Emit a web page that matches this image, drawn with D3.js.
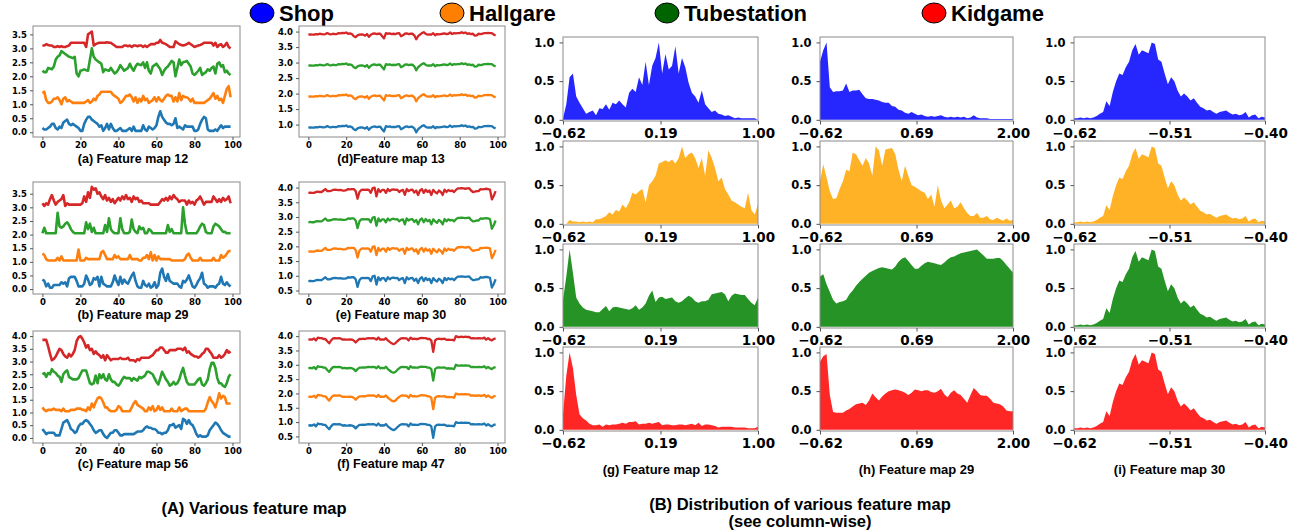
<!DOCTYPE html>
<html>
<head>
<meta charset="utf-8">
<script src="https://cdn.jsdelivr.net/npm/d3@7"></script>
<style>
  body { margin: 0; background: #fff; }
  .tick text { font-family: "DejaVu Sans", sans-serif; font-weight: bold; fill: #000; }
  .ttl { font-family: "Liberation Sans", Arial, sans-serif; font-weight: bold; fill: #000; }
</style>
</head>
<body>
<div id="chart"></div>
<script>
const W = 1298, H = 531;

// ---- legend ----
const classNames = ["Shop", "Hallgare", "Tubestation", "Kidgame"];
const legendColors = ["#0000ff", "#ff8000", "#006400", "#ff0000"];
const lineColors = ["#1f77b4", "#ff7f0e", "#2ca02c", "#d62728"];
const areaColors = ["blue", "orange", "green", "red"];

// ---- (A) feature maps over 100 steps, order: blue, orange, green, red ----
const fm12Blue = [0.15,0.1,0.1,0.15,0.2,0.3,0.3,0.15,0.1,0.2,0.15,0.35,0.4,0.45,0.3,0.25,0.3,0.25,0.2,0.15,0.05,0.05,0.3,0.45,0.55,0.55,0.45,0.4,0.35,0.3,0.2,0.25,0.05,0.15,0.3,0.1,0.3,0.15,0.05,0.05,0.1,0.15,0.05,0.05,0.05,0.1,0.15,0.05,0.2,0.05,0.05,0.05,0.05,0.25,0.1,0.05,0.2,0.15,0.1,0.15,0.25,0.55,0.75,0.55,0.45,0.35,0.3,0.3,0.25,0.3,0.5,0.15,0.2,0.15,0.1,0.25,0.2,0.2,0.2,0.2,0.05,0.05,0.1,0.3,0.45,0.55,0.5,0.1,0.05,0.05,0.05,0.1,0.05,0.15,0.25,0.15,0.2,0.2,0.2,0.2];
const fm12Orange = [1.4,1.45,1.15,1.05,1.05,1.1,1.2,1.2,1.25,1.15,1.0,1.2,1.25,1.1,1.15,1.1,1.05,1.05,1.05,1.05,1.05,1.05,1.05,1.1,1.15,1.05,1.1,1.2,1.15,1.3,1.35,1.45,1.45,1.45,1.45,1.45,1.45,1.35,1.3,1.25,1.2,1.05,1.1,1.2,1.3,1.3,1.35,1.25,1.1,1.25,1.05,1.2,1.1,1.3,1.15,1.2,1.05,1.1,1.15,1.25,1.1,1.25,1.15,1.1,1.2,1.3,1.35,1.3,1.3,1.1,1.25,1.1,1.4,1.15,1.3,1.25,1.25,1.2,1.1,1.2,1.05,1.05,1.05,1.05,1.05,1.05,1.1,1.15,1.2,1.3,1.4,1.2,1.3,1.15,1.2,1.05,1.3,1.55,1.65,1.25];
const fm12Green = [2.2,2.15,2.15,2.3,2.28,2.25,2.35,2.6,2.7,2.75,2.9,2.85,2.8,2.75,2.7,2.68,2.65,2.7,2.1,2.0,2.2,2.22,2.25,2.22,2.2,2.6,3.0,2.7,2.6,2.55,2.5,2.45,2.15,2.25,2.22,2.2,2.3,2.2,2.1,2.15,2.25,2.4,2.3,2.2,2.25,2.3,2.45,2.3,2.2,2.35,2.45,2.42,2.4,2.5,2.3,2.5,2.2,2.1,2.35,2.4,2.45,2.35,2.25,2.05,2.2,2.3,2.35,2.45,2.55,2.5,2.0,2.3,2.6,2.4,2.5,2.52,2.55,2.45,2.35,2.1,2.05,2.12,2.2,2.3,2.05,2.1,2.15,2.25,2.2,2.3,2.35,2.1,2.45,2.5,2.35,2.4,2.15,2.2,2.1,2.05];
const fm12Red = [3.1,3.1,3.15,3.12,3.1,3.1,3.05,3.05,3.08,3.05,3.08,3.05,3.05,3.08,3.1,3.2,3.2,3.2,3.2,3.2,3.2,3.2,3.2,3.05,3.5,3.55,3.6,3.1,3.15,3.18,3.2,3.2,3.2,3.2,3.22,3.2,3.2,3.15,3.1,3.05,3.05,3.05,3.05,3.1,3.1,3.08,3.1,3.05,3.1,3.1,3.08,3.1,3.1,3.05,3.1,3.05,3.1,3.15,3.15,3.15,3.2,3.2,3.3,3.2,3.18,3.15,3.1,3.05,3.05,3.05,3.25,3.2,3.15,3.12,3.1,3.12,3.15,3.2,3.15,3.1,3.05,3.08,3.1,3.12,3.15,3.2,3.2,3.2,3.2,3.2,3.1,3.2,3.05,3.12,3.15,3.05,3.1,3.2,3.05,3.0];

const fm29Blue = [0.35,0.3,0.1,0.2,0.05,0.05,0.15,0.15,0.15,0.15,0.25,0.2,0.25,0.1,0.4,0.45,0.45,0.45,0.3,0.1,0.1,0.1,0.2,0.5,0.35,0.15,0.2,0.4,0.35,0.45,0.1,0.45,0.2,0.15,0.1,0.1,0.1,0.25,0.5,0.3,0.15,0.45,0.2,0.35,0.25,0.2,0.35,0.5,0.6,0.3,0.1,0.05,0.05,0.3,0.15,0.1,0.2,0.05,0.1,0.25,0.05,0.15,0.6,0.75,0.45,0.3,0.55,0.3,0.25,0.2,0.2,0.2,0.1,0.05,0.3,0.25,0.35,0.5,0.3,0.1,0.05,0.15,0.3,0.4,0.6,0.2,0.15,0.05,0.1,0.1,0.1,0.05,0.15,0.2,0.45,0.2,0.15,0.25,0.15,0.1];
const fm29Orange = [1.3,1.25,1.1,1.05,1.05,1.05,1.05,1.05,1.15,1.05,1.2,1.05,1.05,1.05,1.05,1.05,1.05,1.05,1.05,1.45,1.05,1.05,1.05,1.15,1.1,1.1,1.1,1.1,1.1,1.1,1.1,1.35,1.4,1.25,1.1,1.1,1.1,1.1,1.25,1.15,1.2,1.1,1.1,1.1,1.1,1.1,1.25,1.1,1.1,1.1,1.1,1.05,1.05,1.15,1.15,1.25,1.1,1.35,1.05,1.25,1.05,1.2,1.1,1.1,1.1,1.1,1.1,1.1,1.05,1.05,1.05,1.05,1.05,1.05,1.05,1.1,1.25,1.3,1.15,1.05,1.05,1.05,1.05,1.15,1.05,1.05,1.05,1.05,1.05,1.05,1.15,1.05,1.05,1.05,1.25,1.15,1.2,1.3,1.4,1.4];
const fm29Green = [2.05,2.25,2.05,2.05,2.05,2.05,2.05,2.05,2.8,2.3,2.25,2.3,2.4,2.45,2.35,2.2,2.1,2.05,2.05,2.05,2.05,2.05,2.05,2.45,2.2,2.4,2.1,2.25,2.05,2.05,2.05,2.05,2.05,2.35,2.1,2.6,2.2,2.1,2.05,2.05,2.05,2.6,2.2,2.05,2.05,2.05,2.1,2.55,2.2,2.1,2.05,2.3,2.2,2.25,2.05,2.05,2.2,2.15,2.05,2.05,2.05,2.05,2.05,2.05,2.05,2.05,2.35,2.1,2.2,2.05,2.05,2.05,2.05,2.05,3.0,2.4,2.05,2.05,2.05,2.05,2.05,2.05,2.15,2.3,2.4,2.35,2.1,2.05,2.05,2.05,2.3,2.4,2.35,2.3,2.2,2.1,2.1,2.05,2.05,2.05];
const fm29Red = [3.15,3.05,3.15,3.1,3.3,3.45,3.25,3.1,3.2,3.25,3.3,3.45,3.05,3.15,3.1,3.1,3.1,3.1,3.1,3.1,3.1,3.15,3.4,3.2,3.55,3.35,3.75,3.65,3.7,3.5,3.55,3.4,3.3,3.45,3.25,3.35,3.2,3.3,3.15,3.25,3.35,3.25,3.4,3.3,3.45,3.3,3.35,3.2,3.4,3.3,3.35,3.2,3.25,3.15,3.15,3.15,3.15,3.1,3.1,3.1,3.1,3.1,3.2,3.3,3.25,3.35,3.25,3.4,3.3,3.45,3.35,3.3,3.2,3.25,3.25,3.25,3.1,3.25,3.15,3.2,3.1,3.25,3.3,3.4,3.25,3.1,3.2,3.2,3.2,3.2,3.4,3.3,3.2,3.3,3.2,3.35,3.25,3.3,3.4,3.15];

const fm56Blue = [0.35,0.25,0.15,0.2,0.2,0.2,0.2,0.1,0.1,0.1,0.35,0.6,0.65,0.7,0.55,0.35,0.3,0.2,0.25,0.45,0.55,0.55,0.65,0.7,0.65,0.55,0.45,0.3,0.2,0.25,0.3,0.3,0.15,0.05,0.0,0.1,0.2,0.2,0.3,0.3,0.2,0.1,0.1,0.15,0.15,0.15,0.15,0.15,0.15,0.2,0.25,0.25,0.25,0.3,0.4,0.45,0.4,0.4,0.35,0.35,0.3,0.2,0.2,0.15,0.2,0.2,0.3,0.5,0.5,0.55,0.4,0.45,0.5,0.35,0.75,0.7,0.55,0.7,0.55,0.5,0.35,0.15,0.05,0.1,0.05,0.05,0.05,0.1,0.3,0.4,0.5,0.6,0.55,0.45,0.3,0.2,0.15,0.1,0.05,0.05];
const fm56Orange = [1.2,1.1,1.05,1.1,1.1,1.1,1.15,1.1,1.1,1.1,1.05,1.15,1.05,1.05,1.05,1.1,1.1,1.1,1.15,1.15,1.15,1.1,1.1,1.05,1.2,1.1,1.35,1.2,1.4,1.55,1.6,1.55,1.4,1.2,1.2,1.1,1.05,1.05,1.05,1.1,1.25,1.2,1.05,1.05,1.05,1.05,1.05,1.2,1.35,1.45,1.3,1.25,1.2,1.15,1.05,1.05,1.2,1.1,1.25,1.05,1.1,1.25,1.1,1.2,1.05,1.05,1.05,1.05,1.15,1.05,1.05,1.05,1.2,1.05,1.1,1.15,1.15,1.05,1.05,1.05,1.05,1.05,1.05,1.05,1.05,1.05,1.15,1.4,1.6,1.45,1.35,1.2,1.45,1.75,1.55,1.65,1.6,1.35,1.35,1.35];
const fm56Green = [2.5,2.55,2.4,2.55,2.5,2.7,2.6,2.55,2.45,2.4,2.2,2.5,2.6,2.65,2.4,2.35,2.3,2.3,2.3,2.35,2.5,2.65,2.65,2.65,2.4,2.15,2.1,2.15,2.45,2.15,2.5,2.35,2.5,2.3,2.25,2.5,2.3,2.2,2.2,2.1,2.05,2.15,2.3,2.4,2.35,2.35,2.35,2.25,2.35,2.3,2.25,2.4,2.35,2.4,2.45,2.6,2.6,2.55,2.5,2.35,2.2,2.1,2.35,2.6,2.45,2.3,2.2,2.05,2.1,2.2,2.1,2.15,2.3,2.55,2.75,2.45,2.2,2.1,2.1,2.1,2.1,2.2,2.3,2.35,2.1,2.05,2.15,2.3,2.7,2.95,2.95,2.75,2.35,2.15,2.15,2.05,2.0,2.15,2.4,2.5];
const fm56Red = [3.85,3.85,3.85,3.6,3.3,3.05,3.1,3.2,3.35,3.5,3.45,3.3,3.2,3.15,3.3,3.2,3.3,3.45,3.8,3.95,4.0,3.9,3.75,3.55,3.65,3.45,3.5,3.3,3.4,3.3,3.25,3.15,3.25,3.05,3.25,3.15,3.05,3.1,3.1,3.1,3.1,3.15,3.1,3.1,3.1,3.15,3.05,3.05,3.05,3.0,3.1,3.05,3.15,3.15,3.15,3.15,3.15,3.2,3.25,3.35,3.45,3.45,3.55,3.55,3.45,3.35,3.35,3.45,3.45,3.45,3.45,3.5,3.5,3.5,3.45,3.55,3.35,3.4,3.3,3.25,3.2,3.2,3.15,3.2,3.3,3.35,3.5,3.5,3.4,3.3,3.15,3.15,3.15,3.25,3.15,3.2,3.3,3.45,3.35,3.4];

// maps 13, 30, 47: the four classes share one trace, stacked by an offset
const lineOffsets = [0, 1, 2, 3];
const fm13Trace = [0.9,0.91,0.9,0.9,0.92,0.91,0.93,0.92,0.91,0.92,0.95,0.92,0.91,0.93,0.92,0.92,0.95,0.94,0.96,0.95,0.97,0.93,0.94,0.92,0.85,0.82,0.88,0.9,0.91,0.9,0.87,0.92,0.83,0.9,0.93,0.94,0.92,0.93,0.93,0.85,0.78,0.95,0.93,0.94,0.92,0.93,0.92,0.94,0.95,0.85,0.88,0.93,0.94,0.92,0.93,0.93,0.88,0.75,0.85,0.9,0.95,0.98,0.93,0.9,0.91,0.9,0.95,0.88,0.92,0.91,0.92,0.93,0.94,0.92,0.93,0.97,0.92,0.95,0.94,0.95,0.95,0.98,0.95,0.97,0.93,0.94,0.92,0.93,0.87,0.88,0.93,0.92,0.93,0.95,0.95,0.96,0.95,0.95,0.9,0.88];
const fm30Trace = [0.82,0.83,0.82,0.82,0.85,0.86,0.85,0.85,0.9,0.95,0.88,0.88,0.89,0.92,0.93,0.92,0.91,0.92,0.9,0.9,0.91,0.95,0.94,0.95,0.95,0.88,0.62,0.85,0.92,0.93,0.92,0.93,0.92,0.82,0.98,1.0,0.7,0.95,0.85,0.92,0.92,0.82,0.95,0.88,0.93,0.94,0.92,0.93,0.85,0.9,0.92,0.75,0.95,0.88,0.92,0.93,0.83,0.9,0.75,0.9,0.95,0.82,0.93,0.85,0.9,0.75,0.92,0.85,0.8,0.9,0.85,0.75,0.93,0.85,0.92,0.88,0.9,0.85,0.92,0.97,0.97,0.98,0.97,0.96,0.97,0.98,0.9,0.85,0.86,0.88,0.88,0.95,0.94,0.95,0.96,0.95,0.93,0.6,0.72,0.88];
const fm47Trace = [0.88,0.89,0.88,0.92,0.85,0.95,0.93,0.93,0.9,0.9,0.82,0.75,0.85,0.92,0.93,0.92,0.93,0.92,0.88,0.89,0.88,0.88,0.89,0.88,0.85,0.78,0.85,0.9,0.9,0.91,0.9,0.92,0.93,0.92,0.93,0.92,0.88,0.95,0.88,0.89,0.88,0.93,0.85,0.8,0.75,0.72,0.75,0.82,0.88,0.92,0.93,0.92,0.92,0.85,0.95,0.9,0.91,0.9,0.9,0.93,0.94,0.93,0.93,0.9,0.9,0.85,0.45,0.85,0.9,0.91,0.9,0.9,0.91,0.87,0.88,0.87,0.87,0.85,1.0,0.97,0.97,0.98,0.97,0.98,0.97,0.97,0.92,0.93,0.92,0.92,0.93,0.92,0.92,0.95,0.88,0.93,0.88,0.85,0.9,0.92];

const stepTicks = [0, 20, 40, 60, 80, 100];

// ---- (B) normalised distributions, 60 evenly spaced bins ----
const dist12Shop = [0.02,0.2,0.55,0.6,0.3,0.22,0.15,0.08,0.1,0.12,0.06,0.15,0.14,0.2,0.13,0.22,0.2,0.25,0.2,0.16,0.35,0.4,0.36,0.55,0.45,0.75,0.45,0.7,0.8,1.0,0.6,0.85,0.65,0.7,0.95,0.6,0.8,0.68,0.48,0.35,0.3,0.22,0.38,0.2,0.15,0.1,0.12,0.08,0.07,0.05,0.06,0.04,0.02,0.03,0.02,0.02,0.02,0.02,0.02,0.0];
const dist12Hall = [0,0,0.05,0.03,0.03,0.02,0.03,0.02,0.03,0.02,0.06,0.06,0.08,0.1,0.15,0.12,0.18,0.16,0.25,0.2,0.28,0.4,0.38,0.42,0.45,0.28,0.5,0.55,0.62,0.78,0.8,0.82,0.8,0.83,0.78,0.85,1.0,0.85,0.9,0.92,0.85,0.72,0.85,0.62,0.95,0.85,0.72,0.55,0.6,0.45,0.38,0.3,0.28,0.25,0.22,0.2,0.4,0.18,0.12,0.25];
const dist12Tube = [0.35,0.65,1.0,0.7,0.38,0.3,0.25,0.22,0.21,0.2,0.19,0.19,0.23,0.27,0.2,0.25,0.26,0.25,0.24,0.23,0.22,0.24,0.28,0.22,0.25,0.3,0.4,0.47,0.32,0.38,0.39,0.36,0.37,0.38,0.33,0.31,0.33,0.37,0.4,0.38,0.33,0.31,0.33,0.33,0.35,0.42,0.43,0.44,0.45,0.42,0.33,0.4,0.43,0.42,0.41,0.41,0.36,0.31,0.28,0.38];
const dist12Kid = [0.2,0.7,1.0,0.8,0.45,0.2,0.15,0.12,0.08,0.06,0.06,0.07,0.04,0.07,0.06,0.07,0.07,0.08,0.09,0.08,0.1,0.1,0.11,0.07,0.08,0.08,0.09,0.08,0.09,0.1,0.06,0.07,0.07,0.06,0.06,0.07,0.07,0.06,0.07,0.08,0.06,0.09,0.05,0.07,0.07,0.06,0.05,0.03,0.04,0.04,0.04,0.04,0.03,0.03,0.03,0.03,0.02,0.02,0.02,0.04];

const dist29Shop = [0.75,0.9,1.0,0.42,0.36,0.37,0.37,0.38,0.47,0.36,0.38,0.38,0.39,0.33,0.28,0.27,0.27,0.26,0.25,0.23,0.22,0.22,0.18,0.17,0.13,0.12,0.09,0.08,0.1,0.08,0.06,0.07,0.05,0.04,0.05,0.04,0.05,0.06,0.04,0.03,0.04,0.03,0.04,0.03,0.04,0.02,0.03,0.06,0.03,0.02,0.02,0.02,0.01,0.01,0.01,0.01,0.01,0.01,0.01,0.01];
const dist29Hall = [0.55,0.77,0.6,0.42,0.32,0.33,0.45,0.55,0.7,0.68,0.92,0.9,0.82,0.75,0.85,0.78,0.62,1.0,0.95,0.75,0.96,0.97,0.98,0.9,0.7,0.55,0.75,0.62,0.5,0.48,0.45,0.42,0.4,0.32,0.38,0.22,0.5,0.3,0.2,0.25,0.3,0.2,0.22,0.28,0.2,0.14,0.1,0.1,0.14,0.08,0.08,0.1,0.06,0.05,0.08,0.06,0.04,0.07,0.04,0.05];
const dist29Tube = [0.65,0.68,0.55,0.45,0.35,0.3,0.32,0.33,0.35,0.42,0.47,0.53,0.58,0.62,0.66,0.7,0.72,0.74,0.76,0.77,0.76,0.75,0.74,0.78,0.84,0.88,0.9,0.85,0.8,0.75,0.75,0.79,0.82,0.84,0.83,0.82,0.81,0.8,0.83,0.87,0.9,0.91,0.93,0.95,0.96,0.97,0.98,0.99,1.0,0.96,0.92,0.88,0.88,0.88,0.89,0.89,0.85,0.8,0.75,0.7];
const dist29Kid = [0.88,0.95,0.98,0.45,0.23,0.22,0.22,0.22,0.25,0.27,0.3,0.33,0.34,0.35,0.32,0.38,0.47,0.42,0.38,0.43,0.47,0.5,0.51,0.52,0.51,0.5,0.48,0.45,0.48,0.52,0.51,0.5,0.51,0.51,0.49,0.48,0.5,0.53,0.46,0.42,0.48,0.51,0.47,0.45,0.4,0.35,0.45,0.54,0.5,0.45,0.44,0.44,0.4,0.35,0.34,0.33,0.3,0.25,0.24,0.24];

// map 30 has the same distribution for all four classes
const dist30All = [0.02,0.02,0.03,0.02,0.03,0.02,0.03,0.05,0.08,0.1,0.24,0.18,0.36,0.5,0.6,0.58,0.68,0.75,0.9,0.98,0.84,0.9,0.88,0.86,1.0,0.98,0.78,0.75,0.6,0.46,0.55,0.5,0.38,0.3,0.34,0.3,0.25,0.28,0.22,0.17,0.15,0.12,0.13,0.1,0.08,0.1,0.11,0.12,0.09,0.07,0.08,0.06,0.07,0.1,0.03,0.06,0.07,0.02,0.04,0.03];

const distRanges = [[-0.62, 1.00], [-0.62, 2.00], [-0.62, -0.40]];
const distTicks = [[-0.62, 0.19, 1.00], [-0.62, 0.69, 2.00], [-0.62, -0.51, -0.40]];
const distTitles = ["(g) Feature map 12", "(h) Feature map 29", "(i) Feature map 30"];

const svg = d3.select("#chart").append("svg")
  .attr("width", W).attr("height", H)
  .style("display", "block");

svg.append("rect").attr("width", W).attr("height", H).attr("fill", "#fff");

// ---------------- legend ----------------
const legendX = [262, 452, 667, 934];
const legend = svg.append("g");
classNames.forEach((name, i) => {
  legend.append("ellipse")
    .attr("cx", legendX[i]).attr("cy", 13)
    .attr("rx", 12).attr("ry", 10)
    .attr("fill", legendColors[i])
    .attr("stroke", "#000").attr("stroke-width", 1);
  legend.append("text").attr("class", "ttl")
    .attr("x", legendX[i] + 17).attr("y", 21)
    .attr("font-size", 22)
    .text(name);
});

// ---------------- (A) line panels ----------------
const fmt = d3.format(".1f");
const minus = (s) => s.replace("-", "\u2212");

const leftCols = [[33, 240], [299, 505]];
const leftRows = [[26, 137], [182, 294], [331, 443]];
const leftTitleY = [163, 319, 468];
const leftTitleX = [133, 391];

const withOffsets = (trace) => lineOffsets.map(o => trace.map(v => v + o));

const linePanels = [
  {col: 0, row: 0, series: [fm12Blue, fm12Orange, fm12Green, fm12Red], y: [-0.17, 3.8], ticks: d3.range(0, 3.51, 0.5), title: "(a) Feature map 12"},
  {col: 0, row: 1, series: [fm29Blue, fm29Orange, fm29Green, fm29Red], y: [-0.18, 3.93], ticks: d3.range(0, 3.51, 0.5), title: "(b)  Feature map 29"},
  {col: 0, row: 2, series: [fm56Blue, fm56Orange, fm56Green, fm56Red], y: [-0.2, 4.2], ticks: d3.range(0, 4.01, 0.5), title: "(c) Feature map 56"},
  {col: 1, row: 0, series: withOffsets(fm13Trace), y: [0.6, 4.18], ticks: d3.range(1, 4.01, 0.5), title: "(d)Feature map 13"},
  {col: 1, row: 1, series: withOffsets(fm30Trace), y: [0.38, 4.19], ticks: d3.range(0.5, 4.01, 0.5), title: "(e) Feature map 30"},
  {col: 1, row: 2, series: withOffsets(fm47Trace), y: [0.27, 4.18], ticks: d3.range(0.5, 4.01, 0.5), title: "(f) Feature map 47"}
];

linePanels.forEach(p => {
  const [x0, x1] = leftCols[p.col];
  const [y0, y1] = leftRows[p.row];
  const x = d3.scaleLinear().domain([-4.95, 103.95]).range([x0, x1]);
  const y = d3.scaleLinear().domain(p.y).range([y1, y0]);
  const g = svg.append("g");

  const line = d3.line().x((d, i) => x(i)).y(d => y(d));
  g.selectAll("path.ln")
    .data(p.series)
    .join("path")
    .attr("class", "ln")
    .attr("d", line)
    .attr("fill", "none")
    .attr("stroke", (d, i) => lineColors[i])
    .attr("stroke-width", p.col === 0 ? 2.6 : 2.3)
    .attr("stroke-linejoin", "round");

  g.append("rect")
    .attr("x", x0).attr("y", y0)
    .attr("width", x1 - x0).attr("height", y1 - y0)
    .attr("fill", "none").attr("stroke", "#8a8a8a").attr("stroke-width", 1);

  const ax = g.append("g").attr("transform", `translate(0,${y1})`)
    .call(d3.axisBottom(x).tickValues(stepTicks).tickSize(3).tickPadding(2));
  const ay = g.append("g").attr("transform", `translate(${x0},0)`)
    .call(d3.axisLeft(y).tickValues(p.ticks).tickFormat(fmt).tickSize(3).tickPadding(3));
  [ax, ay].forEach(a => {
    a.select(".domain").remove();
    a.selectAll("line").attr("stroke", "#555");
    a.selectAll("text").attr("font-size", 8.5);
  });

  svg.append("text").attr("class", "ttl")
    .attr("x", leftTitleX[p.col]).attr("y", leftTitleY[p.row])
    .attr("text-anchor", "middle").attr("font-size", 12.5)
    .text(p.title);
});

// ---------------- (B) distribution panels ----------------
const rightCols = [[563, 758], [820, 1013], [1074, 1265]];
const rightTops = [37, 141, 244, 347];
const rightH = 84;

const distGrid = [
  [dist12Shop, dist12Hall, dist12Tube, dist12Kid],
  [dist29Shop, dist29Hall, dist29Tube, dist29Kid],
  [dist30All, dist30All, dist30All, dist30All]
];

distGrid.forEach((colData, c) => {
  const [x0, x1] = rightCols[c];
  const [lo, hi] = distRanges[c];
  const x = d3.scaleLinear().domain([lo, hi]).range([x0, x1]);
  colData.forEach((vals, r) => {
    const top = rightTops[r];
    const y = d3.scaleLinear().domain([-0.015, 1.07]).range([top + rightH, top]);
    const step = (hi - lo) / (vals.length - 1);
    const area = d3.area()
      .x((d, i) => x(lo + i * step))
      .y0(y(0))
      .y1(d => y(d));
    const g = svg.append("g");
    g.append("path")
      .datum(vals)
      .attr("d", area)
      .attr("fill", areaColors[r])
      .attr("fill-opacity", 0.85);

    g.append("rect")
      .attr("x", x0).attr("y", top)
      .attr("width", x1 - x0).attr("height", rightH)
      .attr("fill", "none").attr("stroke", "#8a8a8a").attr("stroke-width", 1);

    const ax = g.append("g").attr("transform", `translate(0,${top + rightH})`)
      .call(d3.axisBottom(x).tickValues(distTicks[c])
        .tickFormat(v => minus(d3.format(".2f")(v))).tickSize(3.5).tickPadding(4));
    const ay = g.append("g").attr("transform", `translate(${x0},0)`)
      .call(d3.axisLeft(y).tickValues([0, 0.5, 1]).tickFormat(fmt).tickSize(3.5).tickPadding(5));
    [ax, ay].forEach(a => {
      a.select(".domain").remove();
      a.selectAll("line").attr("stroke", "#555");
    });
    ax.selectAll("text").attr("font-size", 13.5);
    ay.selectAll("text").attr("font-size", 11.5);
  });

  svg.append("text").attr("class", "ttl")
    .attr("x", (x0 + x1) / 2).attr("y", 474)
    .attr("text-anchor", "middle").attr("font-size", 13)
    .text(distTitles[c]);
});

// ---------------- bottom captions ----------------
svg.append("text").attr("class", "ttl")
  .attr("x", 254).attr("y", 514)
  .attr("text-anchor", "middle").attr("font-size", 16.5)
  .text("(A) Various feature map");
svg.append("text").attr("class", "ttl")
  .attr("x", 800).attr("y", 510)
  .attr("text-anchor", "middle").attr("font-size", 16.5)
  .text("(B) Distribution of various feature map");
svg.append("text").attr("class", "ttl")
  .attr("x", 800).attr("y", 527)
  .attr("text-anchor", "middle").attr("font-size", 16.5)
  .text("(see column-wise)");
</script>
</body>
</html>
